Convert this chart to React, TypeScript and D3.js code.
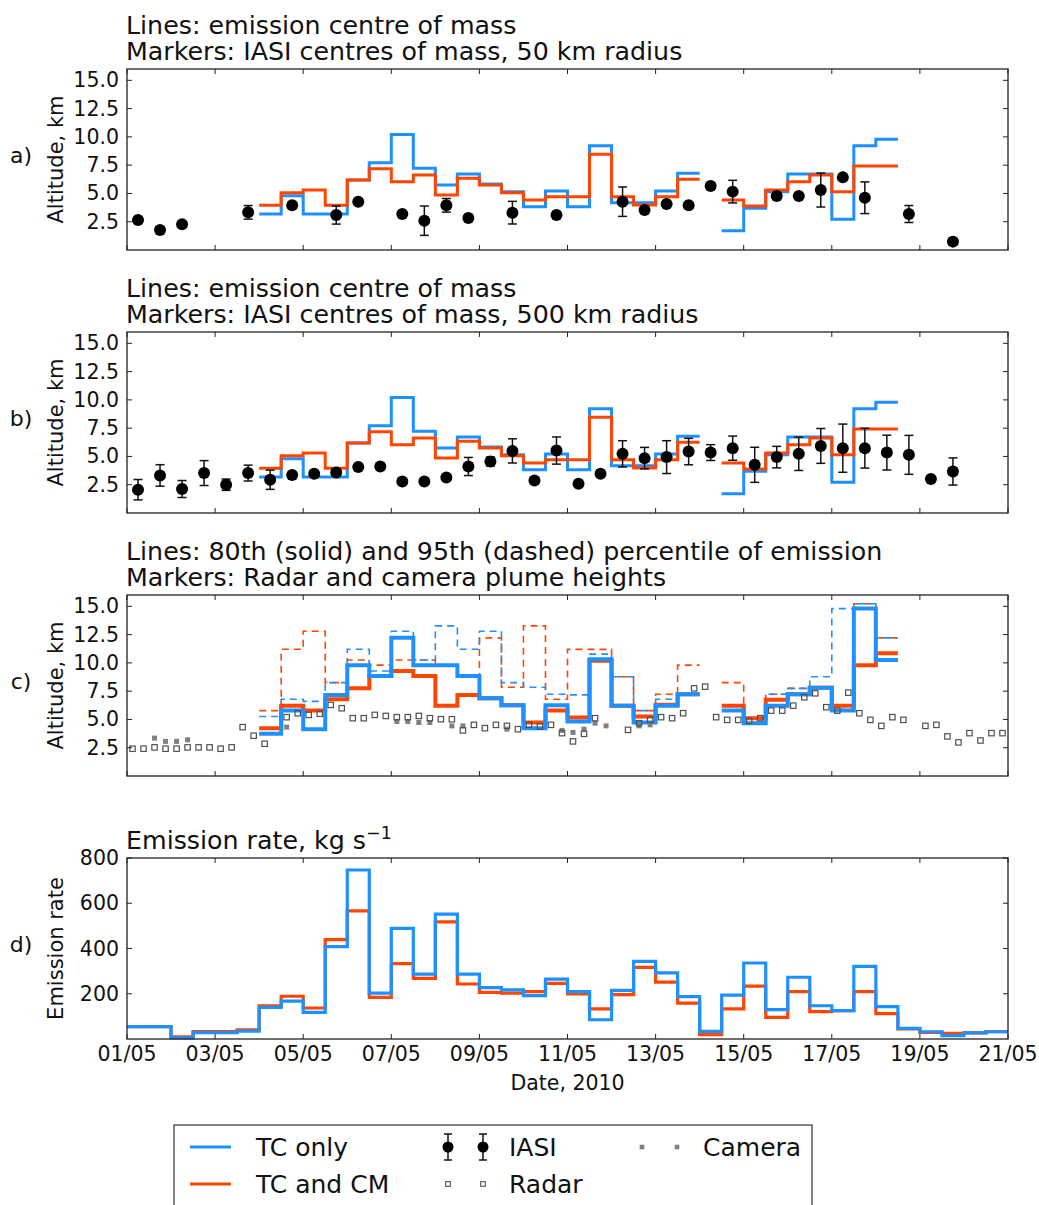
import * as d3 from "d3"

// half-day bins, start time in days after 01/05 00:00
const binStart = d3.range(0, 20, 0.5)
const dayTicks = d3.range(0, 21, 2)
const altTicks = [2.5, 5, 7.5, 10, 12.5, 15]
const rateTicks = [200, 400, 600, 800]

const _ = null
// emission centre of mass, km (panels a and b)
const comTC = [_, _, _, _, _, _, 3.18, 4.8, 3.18, 3.18, 6.19, 7.72, 10.22, 7.22, 5.75, 6.72, 5.83, 5.16, 3.83, 5.21, 3.83, 9.22, 4.18, 4.18, 5.21, 6.78, _, 1.71, 3.68, 5.16, 6.72, 6.72, 2.71, 9.22, 9.78, _, _, _, _, _]
const comTCCM = [_, _, _, _, _, _, 3.95, 5.07, 5.3, 3.95, 6.19, 7.19, 6.04, 6.63, 4.86, 6.34, 5.75, 5.07, 4.42, 4.71, 4.71, 8.46, 4.71, 3.98, 4.71, 6.25, _, 4.42, 3.89, 5.3, 6.04, 6.63, 5.16, 7.42, 7.42, _, _, _, _, _]

// 80th and 95th percentile of emission, km (panel c)
const p80TC = [_, _, _, _, _, _, 3.73, 5.78, 4.14, 7.17, 9.8, 8.84, 12.21, 9.8, 9.8, 8.84, 6.87, 6.26, 4.23, 6.26, 4.82, 10.31, 6.2, 4.73, 6.2, 7.23, _, 5.78, 4.67, 6.2, 7.23, 7.81, 5.78, 14.8, 10.25, _, _, _, _, _]
const p80TCCM = [_, _, _, _, _, _, 4.23, 6.2, 5.78, 6.79, 7.75, 8.84, 9.28, 8.84, 6.2, 7.17, 6.87, 6.26, 4.73, 5.78, 5.17, 10.19, 6.2, 5.26, 6.3, 7.23, _, 6.2, 5.11, 6.73, 7.23, 7.81, 6.2, 9.8, 10.84, _, _, _, _, _]
const p95TC = [_, _, _, _, _, _, 5.26, 6.79, 6.6, 8.25, 11.2, 9.28, 12.8, 10.25, 13.27, 11.2, 12.8, 8.25, 7.84, 7.23, 7.17, 10.77, 8.78, 5.78, 6.79, 7.23, _, 6.28, 5.11, 7.23, 7.75, 8.78, 14.8, 15.23, 12.21, _, _, _, _, _]
const p95TCCM = [_, _, _, _, _, _, 5.78, 11.2, 12.8, 8.25, 10.25, 9.8, 10.25, 10.25, 9.8, 8.84, 12.21, 7.84, 13.27, 6.79, 11.19, 11.19, 8.78, 5.78, 7.23, 9.8, _, 8.25, 5.11, 7.23, 7.75, 7.81, 5.9, 15.23, 12.21, _, _, _, _, _]

// emission rate, kg/s (panel d)
const rateTC = [55, 55, 5, 28, 28, 35, 140, 167, 118, 408, 747, 203, 489, 287, 552, 287, 227, 217, 192, 265, 209, 85, 215, 343, 292, 187, 34, 194, 336, 130, 273, 147, 125, 321, 143, 47, 32, 15, 27, 32]
const rateTCCM = [55, 55, 10, 33, 33, 40, 147, 189, 137, 439, 566, 184, 333, 268, 518, 243, 206, 203, 209, 246, 199, 133, 196, 317, 251, 159, 19, 133, 234, 96, 209, 121, 125, 209, 112, 45, 29, 25, 27, 32]

// IASI, 50 km radius
const iasi50Time = [0.25, 0.75, 1.25, 2.75, 3.75, 4.75, 5.25, 6.25, 6.75, 7.25, 7.75, 8.75, 9.75, 11.25, 11.75, 12.25, 12.75, 13.25, 13.75, 14.75, 15.25, 15.75, 16.25, 16.75, 17.75, 18.75]
const iasi50Alt = [2.65, 1.77, 2.27, 3.33, 3.95, 3.09, 4.27, 3.18, 2.59, 3.95, 2.83, 3.3, 3.09, 4.27, 3.54, 4.07, 3.95, 5.66, 5.16, 4.77, 4.77, 5.3, 6.42, 4.62, 3.18, 0.74]
const iasi50Err = [0.2, 0.25, 0.2, 0.6, 0.25, 0.8, 0.2, 0.2, 1.3, 0.6, 0.3, 1.0, 0.3, 1.3, 0.2, 0.2, 0.2, 0.3, 1.0, 0.3, 0.2, 1.5, 0.2, 1.4, 0.75, 0.3]

// IASI, 500 km radius
const iasi500Time = [0.25, 0.75, 1.25, 1.75, 2.25, 2.75, 3.25, 3.75, 4.25, 4.75, 5.25, 5.75, 6.25, 6.75, 7.25, 7.75, 8.25, 8.75, 9.25, 9.75, 10.25, 10.75, 11.25, 11.75, 12.25, 12.75, 13.25, 13.75, 14.25, 14.75, 15.25, 15.75, 16.25, 16.75, 17.25, 17.75, 18.25, 18.75]
const iasi500Alt = [2.06, 3.32, 2.12, 3.53, 2.5, 3.53, 2.94, 3.35, 3.47, 3.58, 4.06, 4.11, 2.79, 2.79, 3.14, 4.11, 4.55, 5.49, 2.88, 5.52, 2.59, 3.47, 5.23, 4.85, 4.94, 5.43, 5.34, 5.73, 4.26, 4.94, 5.23, 5.93, 5.73, 5.73, 5.34, 5.14, 3.0, 3.67]
const iasi500Err = [0.9, 0.95, 0.75, 1.1, 0.5, 0.7, 0.85, 0.3, 0.2, 0.3, 0.2, 0.2, 0.2, 0.2, 0.2, 0.8, 0.4, 1.07, 0.2, 1.2, 0.2, 0.3, 1.16, 0.95, 1.45, 1.17, 0.7, 1.07, 1.55, 0.95, 1.47, 1.54, 2.13, 1.76, 1.54, 1.72, 0.2, 1.2]

// radar plume heights
const radarTime = [0.125, 0.375, 0.625, 0.875, 1.125, 1.375, 1.625, 1.875, 2.125, 2.375, 2.625, 2.875, 3.125, 3.625, 3.875, 4.125, 4.375, 4.625, 4.875, 5.125, 5.375, 5.625, 5.875, 6.125, 6.375, 6.625, 6.875, 7.125, 7.375, 7.625, 7.875, 8.125, 8.375, 8.625, 8.875, 9.125, 9.375, 9.625, 9.875, 10.125, 10.375, 10.625, 11.375, 11.625, 11.875, 12.125, 12.375, 12.625, 12.875, 13.125, 13.375, 13.625, 13.875, 14.125, 14.375, 14.625, 14.875, 15.125, 15.375, 15.625, 15.875, 16.125, 16.375, 16.625, 16.875, 17.125, 17.375, 17.625, 18.125, 18.375, 18.625, 18.875, 19.125, 19.375, 19.625, 19.875]
const radarAlt = [2.41, 2.41, 2.53, 2.41, 2.41, 2.53, 2.53, 2.53, 2.41, 2.53, 4.32, 3.56, 2.85, 5.2, 5.55, 5.4, 5.5, 6.28, 5.99, 5.11, 5.11, 5.4, 5.31, 5.2, 5.2, 5.31, 5.11, 5.02, 5.02, 4.03, 4.52, 4.23, 4.52, 4.43, 4.14, 4.52, 4.38, 4.52, 3.79, 3.06, 3.73, 5.11, 4.08, 4.67, 4.96, 5.2, 5.11, 5.55, 7.75, 7.9, 5.2, 4.96, 4.96, 4.88, 5.11, 5.78, 5.78, 6.22, 6.96, 7.31, 6.08, 5.78, 7.37, 5.55, 4.96, 4.43, 5.2, 4.96, 4.43, 4.52, 3.5, 2.97, 3.79, 3.14, 3.79, 3.79]

// camera plume heights
const cameraTime = [0.625, 0.875, 1.125, 1.375, 3.625, 6.125, 6.375, 6.625, 6.875, 7.375, 7.625, 8.625, 9.875, 10.125, 10.375, 10.625, 10.875, 11.625, 11.875]
const cameraAlt = [3.35, 3.06, 3.06, 3.2, 4.32, 4.82, 4.82, 4.73, 4.73, 4.43, 4.43, 4.14, 4.03, 3.85, 4.14, 4.67, 4.43, 4.43, 4.52]

const BLUE = "#1e90ff"
const RED = "#ff4500"
const FONT = "DejaVu Sans"
const TEXT = "#111"

const W = 1039
const H = 1205
const left = 127
const right = 1008
const panelH = 181
const tops = [69, 332, 595, 858]

const x = d3.scaleLinear().domain([0, 20]).range([left, right])
const altScale = (top: number) => d3.scaleLinear().domain([0, 16]).range([top + panelH, top])
const rateScale = d3.scaleLinear().domain([0, 800]).range([tops[3] + panelH, tops[3]])

// turn half-day bin values into points for a step-after line
function stepPoints(vals: (number | null)[]) {
  const pts: [number, number | null][] = []
  vals.forEach((v, i) => {
    pts.push([binStart[i], v])
    if (v != null && (i === vals.length - 1 || vals[i + 1] == null)) pts.push([binStart[i] + 0.5, v])
  })
  return pts
}

function stepPath(vals: (number | null)[], y: d3.ScaleLinear<number, number>) {
  const line = d3
    .line<[number, number | null]>()
    .defined((d) => d[1] != null)
    .x((d) => x(d[0]))
    .y((d) => y(d[1] as number))
    .curve(d3.curveStepAfter)
  return line(stepPoints(vals)) || ""
}

type FrameProps = {
  top: number
  y: d3.ScaleLinear<number, number>
  ticks: number[]
  fmt: (d: number) => string
  ylabel: string
  letter: string
  xLabels?: boolean
}

function Frame({ top, y, ticks, fmt, ylabel, letter, xLabels }: FrameProps) {
  const bottom = top + panelH
  const mid = top + panelH / 2
  return (
    <g>
      <rect x={left} y={top} width={right - left} height={panelH} fill="none" stroke="#222" strokeWidth={1.3} />
      {ticks.map((t) => (
        <g key={"y" + t}>
          <line x1={left} x2={left + 5} y1={y(t)} y2={y(t)} stroke="#222" />
          <line x1={right} x2={right - 5} y1={y(t)} y2={y(t)} stroke="#222" />
          <text x={left - 8} y={y(t) + 7} textAnchor="end" fontSize={20.5} fill={TEXT}>
            {fmt(t)}
          </text>
        </g>
      ))}
      {dayTicks.map((d) => (
        <g key={"x" + d}>
          <line x1={x(d)} x2={x(d)} y1={top} y2={top + 5} stroke="#222" />
          <line x1={x(d)} x2={x(d)} y1={bottom} y2={bottom - 5} stroke="#222" />
          {xLabels && (
            <text x={x(d)} y={bottom + 22} textAnchor="middle" fontSize={20.5} fill={TEXT}>
              {String(d + 1).padStart(2, "0") + "/05"}
            </text>
          )}
        </g>
      ))}
      <text transform={`translate(63,${mid}) rotate(-90)`} textAnchor="middle" fontSize={21} fill={TEXT}>
        {ylabel}
      </text>
      <text x={21} y={mid + 3} textAnchor="middle" fontSize={22} fill={TEXT}>
        {letter}
      </text>
    </g>
  )
}

function Titles({ top, lines }: { top: number; lines: string[] }) {
  return (
    <g>
      {lines.map((s, i) => (
        <text key={i} x={left - 1} y={top - 9 - (lines.length - 1 - i) * 26.5} fontSize={25.3} fill={TEXT}>
          {s}
        </text>
      ))}
    </g>
  )
}

function Iasi({ times, alts, errs, y }: { times: number[]; alts: number[]; errs: number[]; y: d3.ScaleLinear<number, number> }) {
  return (
    <g>
      {times.map((t, i) => {
        const cx = x(t)
        const lo = y(alts[i] - errs[i])
        const hi = y(alts[i] + errs[i])
        return (
          <g key={i}>
            <line x1={cx} x2={cx} y1={lo} y2={hi} stroke="#111" strokeWidth={1.5} />
            <line x1={cx - 4.5} x2={cx + 4.5} y1={lo} y2={lo} stroke="#111" strokeWidth={1.5} />
            <line x1={cx - 4.5} x2={cx + 4.5} y1={hi} y2={hi} stroke="#111" strokeWidth={1.5} />
            <circle cx={cx} cy={y(alts[i])} r={6} fill="#000" />
          </g>
        )
      })}
    </g>
  )
}

export default function App() {
  const ya = altScale(tops[0])
  const yb = altScale(tops[1])
  const yc = altScale(tops[2])
  const fmtAlt = d3.format(".1f")
  const fmtRate = d3.format("d")
  const row1 = 1147
  const row2 = 1184

  return (
    <svg width={W} height={H} style={{ position: "absolute", left: 0, top: 0, background: "#fff" }} fontFamily={FONT}>
      {/* panel a */}
      <Titles top={tops[0]} lines={["Lines: emission centre of mass", "Markers: IASI centres of mass, 50 km radius"]} />
      <path d={stepPath(comTC, ya)} fill="none" stroke={BLUE} strokeWidth={3} />
      <path d={stepPath(comTCCM, ya)} fill="none" stroke={RED} strokeWidth={3} />
      <Iasi times={iasi50Time} alts={iasi50Alt} errs={iasi50Err} y={ya} />
      <Frame top={tops[0]} y={ya} ticks={altTicks} fmt={fmtAlt} ylabel="Altitude, km" letter="a)" />

      {/* panel b */}
      <Titles top={tops[1]} lines={["Lines: emission centre of mass", "Markers: IASI centres of mass, 500 km radius"]} />
      <path d={stepPath(comTC, yb)} fill="none" stroke={BLUE} strokeWidth={3} />
      <path d={stepPath(comTCCM, yb)} fill="none" stroke={RED} strokeWidth={3} />
      <Iasi times={iasi500Time} alts={iasi500Alt} errs={iasi500Err} y={yb} />
      <Frame top={tops[1]} y={yb} ticks={altTicks} fmt={fmtAlt} ylabel="Altitude, km" letter="b)" />

      {/* panel c */}
      <Titles
        top={tops[2]}
        lines={["Lines: 80th (solid) and 95th (dashed) percentile of emission", "Markers: Radar and camera plume heights"]}
      />
      <path d={stepPath(p95TCCM, yc)} fill="none" stroke={RED} strokeWidth={1.6} strokeDasharray="7,5" />
      <path d={stepPath(p95TC, yc)} fill="none" stroke={BLUE} strokeWidth={1.6} strokeDasharray="7,5" />
      <path d={stepPath(p80TCCM, yc)} fill="none" stroke={RED} strokeWidth={4} />
      <path d={stepPath(p80TC, yc)} fill="none" stroke={BLUE} strokeWidth={4} />
      {cameraTime.map((t, i) => (
        <rect key={"c" + i} x={x(t) - 2.5} y={yc(cameraAlt[i]) - 2.5} width={5} height={5} fill="#808080" />
      ))}
      {radarTime.map((t, i) => (
        <rect key={"r" + i} x={x(t) - 2.7} y={yc(radarAlt[i]) - 2.7} width={5.4} height={5.4} fill="none" stroke="#505050" strokeWidth={1.2} />
      ))}
      <Frame top={tops[2]} y={yc} ticks={altTicks} fmt={fmtAlt} ylabel="Altitude, km" letter="c)" />

      {/* panel d */}
      <text x={left - 1} y={tops[3] - 9} fontSize={25.3} fill={TEXT}>
        Emission rate, kg s
        <tspan dy={-10} fontSize={17.5}>
          −1
        </tspan>
      </text>
      <path d={stepPath(rateTCCM, rateScale)} fill="none" stroke={RED} strokeWidth={3.2} />
      <path d={stepPath(rateTC, rateScale)} fill="none" stroke={BLUE} strokeWidth={3.2} />
      <Frame top={tops[3]} y={rateScale} ticks={rateTicks} fmt={fmtRate} ylabel="Emission rate" letter="d)" xLabels />
      <text x={(left + right) / 2} y={1090} textAnchor="middle" fontSize={20.5} fill={TEXT}>
        Date, 2010
      </text>

      {/* legend */}
      <g>
        <rect x={174} y={1125} width={638} height={100} fill="#fff" stroke="#333" strokeWidth={1.2} />
        <line x1={190} x2={231} y1={row1} y2={row1} stroke={BLUE} strokeWidth={3} />
        <text x={256} y={row1 + 9} fontSize={25} fill={TEXT}>TC only</text>
        <line x1={190} x2={231} y1={row2} y2={row2} stroke={RED} strokeWidth={3} />
        <text x={256} y={row2 + 9} fontSize={25} fill={TEXT}>TC and CM</text>
        {[448, 483].map((cx) => (
          <g key={"li" + cx}>
            <line x1={cx} x2={cx} y1={row1 - 13} y2={row1 + 13} stroke="#111" strokeWidth={1.5} />
            <line x1={cx - 4} x2={cx + 4} y1={row1 - 13} y2={row1 - 13} stroke="#111" strokeWidth={1.5} />
            <line x1={cx - 4} x2={cx + 4} y1={row1 + 13} y2={row1 + 13} stroke="#111" strokeWidth={1.5} />
            <circle cx={cx} cy={row1} r={5.5} fill="#000" />
            <rect x={cx - 2.3} y={row2 - 2.3} width={4.6} height={4.6} fill="none" stroke="#505050" strokeWidth={1.1} />
          </g>
        ))}
        <text x={509} y={row1 + 9} fontSize={25} fill={TEXT}>IASI</text>
        <text x={509} y={row2 + 9} fontSize={25} fill={TEXT}>Radar</text>
        {[642, 677].map((cx) => (
          <rect key={"lc" + cx} x={cx - 2.3} y={row1 - 2.3} width={4.6} height={4.6} fill="#808080" />
        ))}
        <text x={703} y={row1 + 9} fontSize={25} fill={TEXT}>Camera</text>
      </g>
    </svg>
  )
}
